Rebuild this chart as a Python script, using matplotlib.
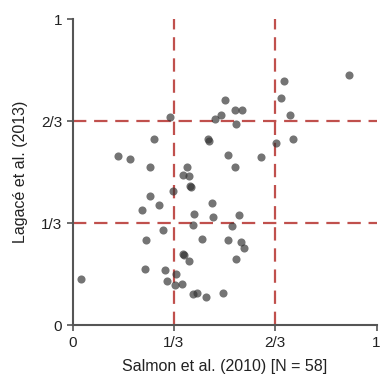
import matplotlib
matplotlib.use("Agg")
import matplotlib.pyplot as plt

plt.rcParams["font.family"] = ["Liberation Sans", "DejaVu Sans"]

# Fraction of proteins (per study)
salmon = [0.910, 0.694, 0.685, 0.501, 0.533, 0.558, 0.488, 0.470, 0.715, 0.322,
          0.536, 0.269, 0.445, 0.449, 0.724, 0.670, 0.511, 0.620, 0.150, 0.190,
          0.254, 0.377, 0.533, 0.362, 0.382, 0.386, 0.390, 0.330, 0.254, 0.284,
          0.228, 0.458, 0.401, 0.461, 0.548, 0.396, 0.523, 0.298, 0.241, 0.426,
          0.511, 0.553, 0.563, 0.363, 0.367, 0.384, 0.538, 0.238, 0.303, 0.340,
          0.027, 0.309, 0.338, 0.359, 0.395, 0.408, 0.438, 0.496]
lagace = [0.818, 0.797, 0.741, 0.735, 0.703, 0.704, 0.688, 0.673, 0.687, 0.680,
          0.659, 0.608, 0.608, 0.603, 0.610, 0.595, 0.556, 0.549, 0.552, 0.542,
          0.517, 0.518, 0.517, 0.491, 0.486, 0.456, 0.452, 0.440, 0.422, 0.392,
          0.377, 0.399, 0.364, 0.355, 0.361, 0.327, 0.325, 0.312, 0.279, 0.283,
          0.278, 0.271, 0.252, 0.232, 0.229, 0.209, 0.217, 0.184, 0.182, 0.168,
          0.150, 0.146, 0.132, 0.136, 0.102, 0.105, 0.092, 0.105]

ticks = [0, 1 / 3, 2 / 3, 1]
tick_labels = ["0", "1/3", "2/3", "1"]

fig = plt.figure(figsize=(3.8, 3.76), dpi=100)
ax = fig.add_axes([0.191, 0.135, 0.8, 0.814])

red = "#c0504d"
for t in ticks[1:3]:
    ax.axvline(t, color=red, lw=1.6, dashes=(6, 3.5), zorder=1)
    ax.axhline(t, color=red, lw=1.6, dashes=(6, 3.5), zorder=1)

ax.scatter(salmon, lagace, s=34, color="#333333", alpha=0.68,
           linewidths=0, zorder=2)

ax.set_xlim(0, 1)
ax.set_ylim(0, 1)
ax.set_xticks(ticks)
ax.set_xticklabels(tick_labels)
ax.set_yticks(ticks)
ax.set_yticklabels(tick_labels)

for side in ["top", "right"]:
    ax.spines[side].set_visible(False)
for side in ["left", "bottom"]:
    ax.spines[side].set_color("#555555")
    ax.spines[side].set_linewidth(1.5)
ax.tick_params(colors="#555555", width=1.2, length=4, labelsize=11,
               labelcolor="#222222")

ax.set_xlabel("Salmon et al. (2010) [N = 58]", fontsize=11.5, color="#222222",
              labelpad=7)
ax.set_ylabel("Lagacé et al. (2013)", fontsize=11.5, color="#222222",
              labelpad=9)

fig.savefig("out.png", dpi=100)
